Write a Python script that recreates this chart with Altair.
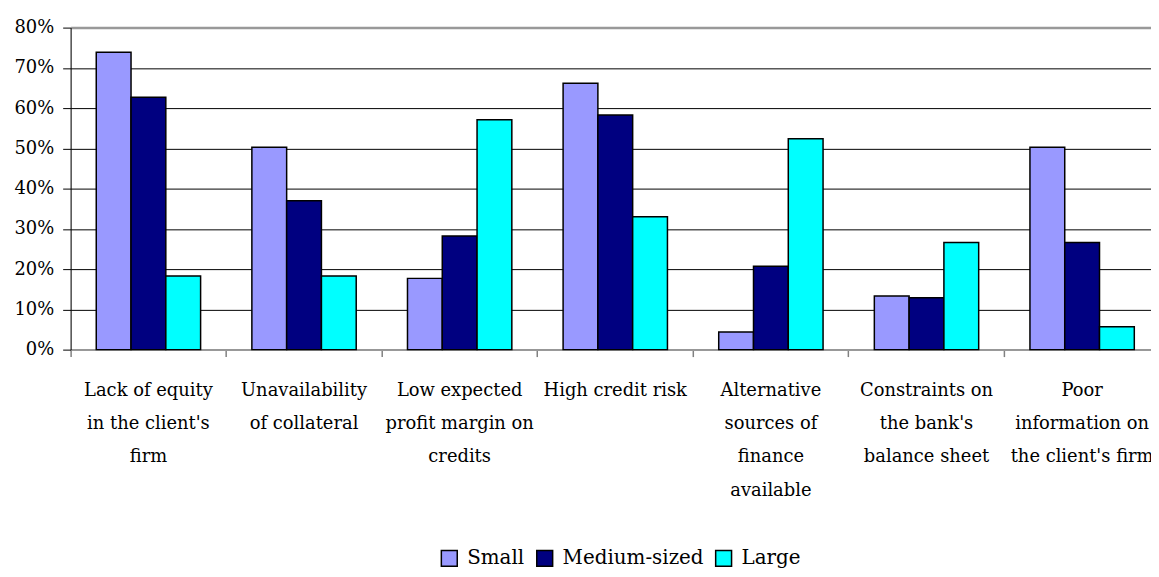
import altair as alt
import pandas as pd

categories = [
    "Lack of equity|in the client's|firm",
    "Unavailability|of collateral",
    "Low expected|profit margin on|credits",
    "High credit risk",
    "Alternative|sources of|finance|available",
    "Constraints on|the bank's|balance sheet",
    "Poor|information on|the client's firm",
]
series = ["Small", "Medium-sized", "Large"]
small = [0.739, 0.503, 0.177, 0.662, 0.044, 0.133, 0.503]
medium = [0.627, 0.370, 0.282, 0.583, 0.207, 0.129, 0.266]
large = [0.183, 0.183, 0.571, 0.330, 0.524, 0.266, 0.057]
colors = ["#9999FF", "#000080", "#00FFFF"]
y_ticks = [0, 0.1, 0.2, 0.3, 0.4, 0.5, 0.6, 0.7, 0.8]

rows = []
for s, vals in zip(series, [small, medium, large]):
    for c, v in zip(categories, vals):
        rows.append({"category": c, "size": s, "value": v})
df = pd.DataFrame(rows)

FONT = "DejaVu Serif"
STEP = 156.57
PLOT_W = 1087
PLOT_H = 324

chart = alt.Chart(df).mark_bar(stroke="black", strokeWidth=1.5).encode(
    x=alt.X(
        "category:N",
        sort=categories,
        scale=alt.Scale(paddingInner=0, paddingOuter=0, range=[0, STEP * 7]),
        axis=alt.Axis(
            title=None,
            labelAngle=0,
            bandPosition=0,
            labelExpr="split(datum.label, '|')",
            labelFont=FONT,
            labelFontSize=18,
            labelLineHeight=33.5,
            labelColor="black",
            labelAlign="center",
            labelBaseline="top",
            labelPadding=25,
            labelLimit=0,
            labelOverlap=False,
            tickSize=7,
            tickColor="#808080",
            tickWidth=1.5,
            domainColor="#999999",
            domainWidth=2,
            grid=False,
        ),
    ),
    xOffset=alt.XOffset(
        "size:N",
        sort=series,
        scale=alt.Scale(paddingInner=0, paddingOuter=0.737),
    ),
    y=alt.Y(
        "value:Q",
        scale=alt.Scale(domain=[0, 0.8], nice=False),
        axis=alt.Axis(
            title=None,
            values=y_ticks,
            format=".0%",
            labelFont=FONT,
            labelFontSize=18,
            labelColor="black",
            labelPadding=9,
            tickSize=8,
            tickColor="black",
            domainColor="black",
            domainWidth=1,
            grid=True,
            gridColor=alt.condition("datum.value >= 0.79", alt.value("#999999"), alt.value("black")),
            gridWidth=alt.condition("datum.value >= 0.79", alt.value(2.5), alt.value(1)),
        ),
    ),
    color=alt.Color(
        "size:N",
        sort=series,
        scale=alt.Scale(domain=series, range=colors),
        legend=alt.Legend(
            title=None,
            orient="none",
            direction="horizontal",
            legendX=371,
            legendY=524,
            symbolType="square",
            symbolSize=256,
            symbolStrokeColor="black",
            symbolStrokeWidth=1.5,
            labelFont=FONT,
            labelFontSize=20,
            labelColor="black",
            labelOffset=8,
            columnPadding=9,
            labelLimit=0,
        ),
    ),
).properties(
    width=PLOT_W,
    height=PLOT_H,
    autosize=alt.AutoSizeParams(type="none"),
    padding={"left": 63, "top": 18, "right": 0, "bottom": 219},
).configure_view(stroke=None).configure(background="white")

chart.save("out.html", embed_options={"renderer": "svg", "actions": False})
